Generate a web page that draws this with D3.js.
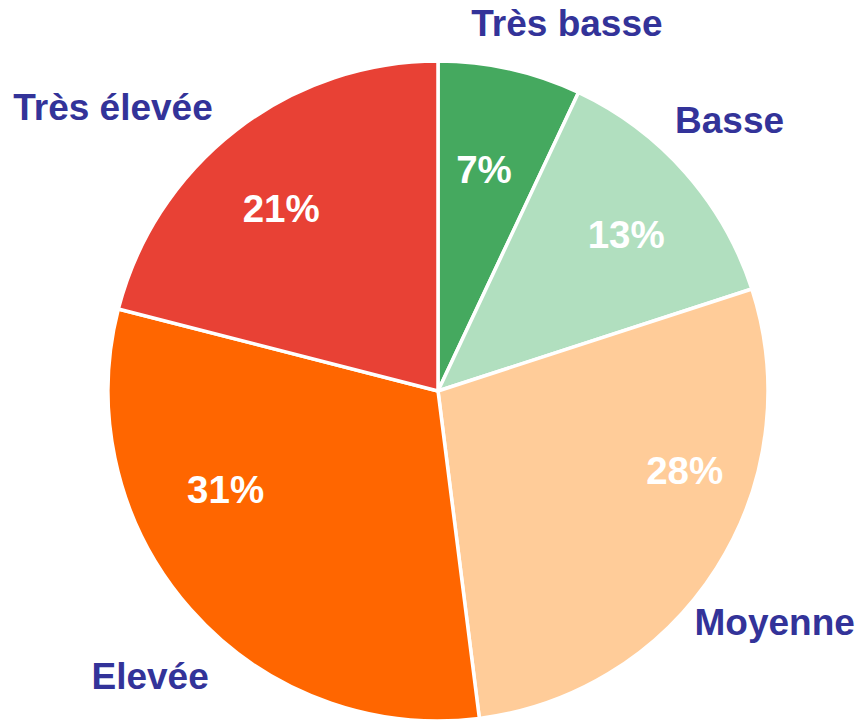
<!DOCTYPE html>
<html>
<head>
<meta charset="utf-8">
<script src="https://cdn.jsdelivr.net/npm/d3@7"></script>
<style>
  body { margin: 0; background: #fff; }
  text { font-family: "Liberation Sans", Arial, sans-serif; font-weight: bold; }
</style>
</head>
<body>
<div class="chart"></div>
<script>
// data
let categories = ["Très basse", "Basse", "Moyenne", "Elevée", "Très élevée"];
let shares = [7, 13, 28, 31, 21];
let colors = ["#45a95f", "#b1dfbf", "#ffcc99", "#ff6600", "#e84135"];

let svgW = 858;
let svgH = 721;

let cx = 438;  // pie centre
let cy = 391;
let radius = 330;

// label placement (angle in degrees from top, distance from centre), like the original layout
let pctPlace = [[11.7, 227], [50.2, 245], [107.7, 259], [245.2, 234], [319.4, 241]];
let namePlace = [[19.3, 390], [47.1, 398], [124.4, 408], [225.3, 405], [311.2, 432]];

let svg = d3.select(".chart")
  .append("svg")
  .attr("width", svgW)
  .attr("height", svgH);

let pieGroup = svg.append("g")
  .attr("transform", `translate(${cx}, ${cy})`);

let pie = d3.pie().sort(null).value(d => d.value);
let rows = categories.map((c, i) => ({ name: c, value: shares[i], color: colors[i] }));
let arcs = pie(rows);

let arc = d3.arc().innerRadius(0).outerRadius(radius);

pieGroup.selectAll("path")
  .data(arcs)
  .enter()
  .append("path")
  .attr("d", arc)
  .attr("fill", d => d.data.color)
  .attr("stroke", "#fff")
  .attr("stroke-width", 3.5)
  .attr("stroke-linejoin", "round");

// point at a given angle / distance
function place(p) {
  let a = p[0] * Math.PI / 180;
  return [p[1] * Math.sin(a), -p[1] * Math.cos(a)];
}

pieGroup.selectAll(".pct")
  .data(arcs)
  .enter()
  .append("text")
  .attr("class", "pct")
  .attr("x", (d, i) => place(pctPlace[i])[0])
  .attr("y", (d, i) => place(pctPlace[i])[1])
  .attr("dy", "0.36em")
  .attr("text-anchor", "middle")
  .attr("font-size", 38.5)
  .attr("fill", "#fff")
  .text(d => d.data.value + "%");

pieGroup.selectAll(".name")
  .data(arcs)
  .enter()
  .append("text")
  .attr("class", "name")
  .attr("x", (d, i) => place(namePlace[i])[0])
  .attr("y", (d, i) => place(namePlace[i])[1])
  .attr("dy", "0.36em")
  .attr("text-anchor", "middle")
  .attr("font-size", 37)
  .attr("fill", "#333399")
  .text(d => d.data.name);
</script>
</body>
</html>
